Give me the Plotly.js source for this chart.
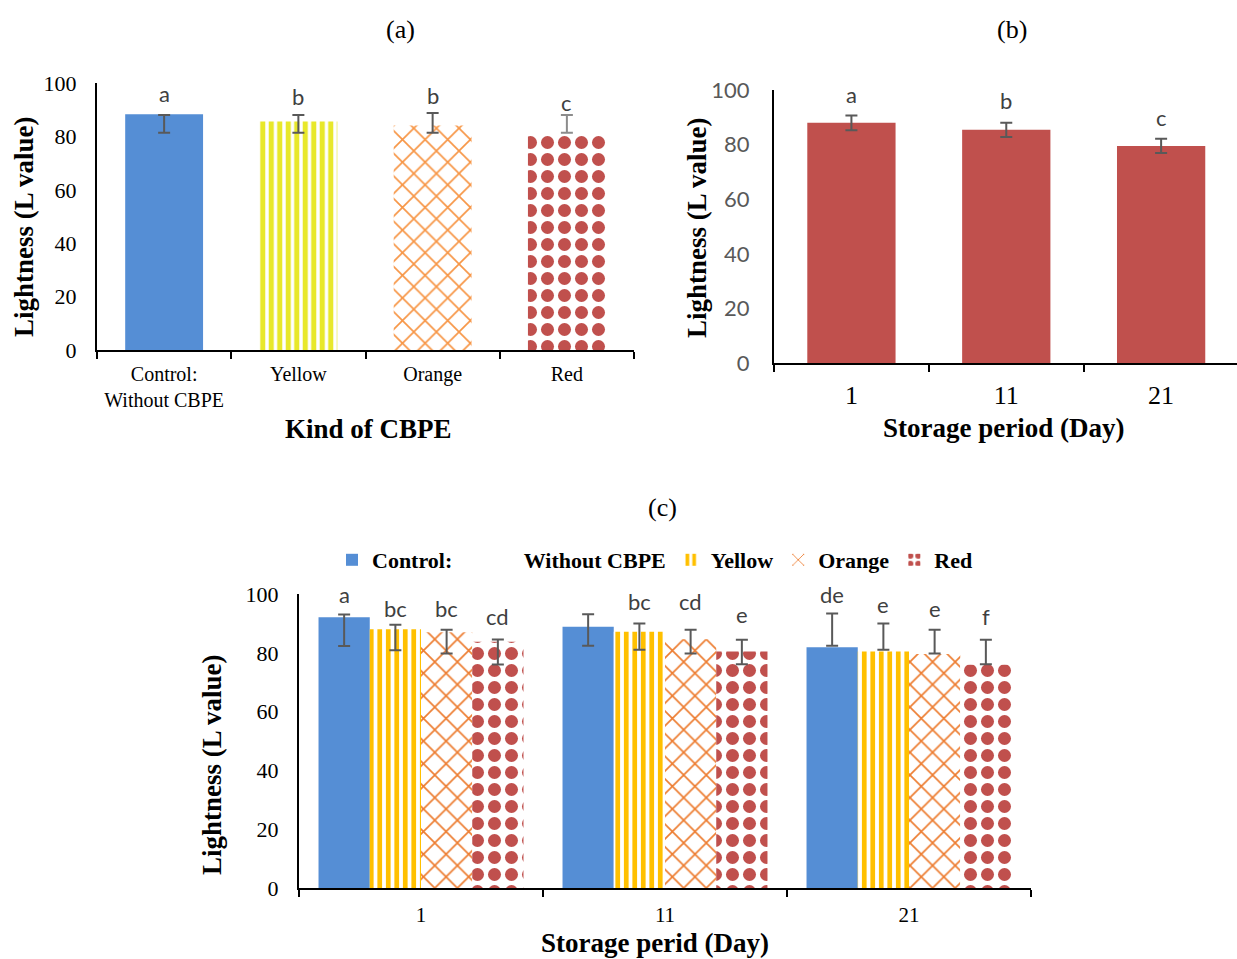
<!DOCTYPE html>
<html>
<head>
<meta charset="utf-8">
<script src="https://cdn.plot.ly/plotly-3.0.1.min.js"></script>
<style>html,body{margin:0;padding:0;background:#fff}#chart{width:1237px;height:959px}</style>
</head>
<body>
<div id="chart"></div>
<script>
// ---------- Panel (a): Kind of CBPE ----------
const catsA = ['Control:<br>Without CBPE', 'Yellow', 'Orange', 'Red'];
const valA = [88.3, 85.6, 84.1, 80.7];
const errHiA = [88.0, 88.0, 88.8, 88.0];
const errLoA = [81.4, 81.4, 81.4, 81.4];
const letA = ['a', 'b', 'b', 'c'];
const letYA = [96.0, 95.0, 95.3, 92.8];

// ---------- Panel (b): Storage period ----------
const catsB = ['1', '11', '21'];
const valB = [88.0, 85.4, 79.5];
const errB = [2.7, 2.6, 2.6];
const letB = ['a', 'b', 'c'];
const letYB = [98.2, 96.0, 89.8];

// ---------- Panel (c): Kind x Storage period ----------
const catsC = ['1', '11', '21'];
const namesC = ['Control:\u00A0\u00A0\u00A0\u00A0\u00A0\u00A0\u00A0\u00A0\u00A0\u00A0\u00A0\u00A0\u00A0Without CBPE', 'Yellow', 'Orange', 'Red'];
const controlC = [92.1, 88.9, 81.9];
const yellowC = [88.0, 87.2, 80.4];
const orangeC = [87.0, 84.6, 79.6];
const redC = [83.8, 80.4, 75.9];
const controlHiC = [93.0, 93.1, 93.4];
const controlLoC = [82.3, 82.4, 82.4];
const yellowHiC = [89.5, 90.0, 90.0];
const yellowLoC = [80.9, 81.0, 81.0];
const orangeHiC = [87.8, 87.8, 87.8];
const orangeLoC = [79.8, 79.8, 79.8];
const redHiC = [84.5, 84.4, 84.4];
const redLoC = [76.0, 76.1, 76.1];
const controlLetC = ['a', 'ab', 'de'];
const yellowLetC = ['bc', 'bc', 'e'];
const orangeLetC = ['bc', 'cd', 'e'];
const redLetC = ['cd', 'e', 'f'];
const controlLetYC = [99.7, 100.8, 99.7];
const yellowLetYC = [95.1, 97.4, 96.3];
const orangeLetYC = [95.1, 97.4, 95.1];
const redLetYC = [92.3, 92.9, 92.3];

// ---------- layout helpers ----------
const W = 1237, H = 959;
const xd = (a, b) => [a / W, Math.min(1, b / W)];
const yd = (top, bottom) => [1 - bottom / H, 1 - top / H];
const SERIF = 'Liberation Serif, Times New Roman, serif';
const SANS = 'Lato, Open Sans, sans-serif';
const ERRC = '#595959';
const BARGAP_C = 0.16;

const plus = (hi, v) => hi.map((h, i) => h - v[i]);
const minus = (lo, v) => lo.map((l, i) => v[i] - l);

const traces = [];

// Panel (a): one trace per bar, sharing one offset group so they stay centred
const styleA = [
  {color: '#558ED5', shape: '', fg: '#558ED5', bg: '#558ED5', size: 8, sol: 0.5, err: '#595959'},
  {color: '#FFFFFF', shape: '|', fg: '#E8E82A', bg: '#FFFFFF', size: 8.5, sol: 0.6, err: '#595959'},
  {color: '#FFFFFF', shape: 'x', fg: '#F79646', bg: '#FFFFFF', size: 16, sol: 0.2, err: '#595959'},
  {color: '#FFFFFF', shape: '.', fg: '#C0504D', bg: '#FFFFFF', size: 17, sol: 0.46, err: '#8C8C8C'}
];
catsA.forEach((c, i) => {
  const s = styleA[i];
  const marker = {color: s.color, line: {width: 0}};
  if (s.shape) marker.pattern = {shape: s.shape, fgcolor: s.fg, bgcolor: s.bg, fillmode: 'replace', size: s.size, solidity: s.sol};
  traces.push({
    type: 'bar', x: [c], y: [valA[i]], xaxis: 'x', yaxis: 'y', width: 0.58, offsetgroup: 'a',
    showlegend: false, hoverinfo: 'skip', marker: marker,
    error_y: {type: 'data', symmetric: false, array: [errHiA[i] - valA[i]], arrayminus: [valA[i] - errLoA[i]],
              color: s.err, thickness: 2, width: 6}
  });
});

// Panel (b)
traces.push({
  type: 'bar', x: catsB, y: valB, xaxis: 'x2', yaxis: 'y2', width: 0.57, showlegend: false,
  hoverinfo: 'skip',
  marker: {color: '#C0504D', line: {width: 0}},
  error_y: {type: 'data', array: errB, color: ERRC, thickness: 2, width: 6}
});

// Panel (c)
const seriesC = [
  {y: controlC, hi: controlHiC, lo: controlLoC, color: '#558ED5', shape: '', fg: '#558ED5', bg: '#558ED5', size: 8, sol: 0.5},
  {y: yellowC, hi: yellowHiC, lo: yellowLoC, color: '#FFFFFF', shape: '|', fg: '#FFC000', bg: '#FFFFFF', size: 8.5, sol: 0.55},
  {y: orangeC, hi: orangeHiC, lo: orangeLoC, color: '#FFFFFF', shape: 'x', fg: '#ED7D31', bg: '#FFFFFF', size: 16, sol: 0.2},
  {y: redC, hi: redHiC, lo: redLoC, color: '#FFFFFF', shape: '.', fg: '#C0504D', bg: '#FFFFFF', size: 17, sol: 0.46}
];
seriesC.forEach((s, k) => {
  const marker = {color: s.color, line: {width: 0}};
  if (s.shape) marker.pattern = {shape: s.shape, fgcolor: s.fg, bgcolor: s.bg, fillmode: 'replace', size: s.size, solidity: s.sol};
  traces.push({
    type: 'bar', name: namesC[k], x: catsC, y: s.y, xaxis: 'x3', yaxis: 'y3',
    hoverinfo: 'skip', marker: marker,
    error_y: {type: 'data', symmetric: false, array: plus(s.hi, s.y), arrayminus: minus(s.lo, s.y),
              color: ERRC, thickness: 2, width: 6}
  });
});

// ---------- annotations ----------
const ann = [];
const letterFont = {family: SANS, size: 22, color: '#404040'};
letA.forEach((t, i) => ann.push({xref: 'x', yref: 'y', x: i, y: letYA[i], text: t, showarrow: false, font: letterFont}));
letB.forEach((t, i) => ann.push({xref: 'x2', yref: 'y2', x: i, y: letYB[i], text: t, showarrow: false, font: letterFont}));
const letC = [controlLetC, yellowLetC, orangeLetC, redLetC];
const letYC = [controlLetYC, yellowLetYC, orangeLetYC, redLetYC];
const slot = (1 - BARGAP_C) / 4;
letC.forEach((arr, k) => arr.forEach((t, j) => ann.push({
  xref: 'x3', yref: 'y3', x: j + (k - 1.5) * slot, y: letYC[k][j], text: t, showarrow: false, font: letterFont
})));

const pAnn = (text, px, py, size, bold, angle) => ({
  xref: 'paper', yref: 'paper', x: px / W, y: 1 - py / H, xanchor: 'center', yanchor: 'middle',
  text: bold ? '<b>' + text + '</b>' : text, showarrow: false, textangle: angle || 0,
  font: {family: SERIF, size: size, color: '#000'}
});
ann.push(pAnn('(a)', 400, 30, 26, false));
ann.push(pAnn('(b)', 1012, 30, 26, false));
ann.push(pAnn('(c)', 662, 507, 26, false));
ann.push(pAnn('Lightness (L value)', 24, 227, 27, true, -90));
ann.push(pAnn('Lightness (L value)', 697, 228, 27, true, -90));
ann.push(pAnn('Lightness (L value)', 212, 765, 27, true, -90));
ann.push(pAnn('Kind of CBPE', 368, 429, 27, true));
ann.push(pAnn('Storage period (Day)', 1004, 428, 27, true));
ann.push(pAnn('Storage perid (Day)', 655, 943, 27, true));

const xCommon = {
  type: 'category', showline: true, linecolor: '#000', linewidth: 2, ticks: 'outside', tickson: 'boundaries',
  ticklen: 7, tickwidth: 2, tickcolor: '#000', showgrid: false, zeroline: false, fixedrange: true, tickangle: 0
};
const yCommon = {
  range: [0, 100], dtick: 20, showline: true, linecolor: '#000', linewidth: 2, ticks: '', showgrid: false,
  zeroline: false, fixedrange: true
};

const layout = {
  width: W, height: H, margin: {l: 0, r: 0, t: 0, b: 0},
  paper_bgcolor: '#fff', plot_bgcolor: 'rgba(0,0,0,0)',
  barmode: 'group', bargap: BARGAP_C, bargroupgap: 0,
  showlegend: true,
  legend: {
    orientation: 'h', x: 655 / W, y: 1 - 560 / H, xanchor: 'center', yanchor: 'middle',
    font: {family: SERIF, size: 22, color: '#000', weight: 'bold'}, itemwidth: 30, traceorder: 'normal',
    bgcolor: 'rgba(0,0,0,0)', itemclick: false, itemdoubleclick: false
  },
  xaxis: Object.assign({}, xCommon, {domain: xd(97, 634), anchor: 'y', range: [-0.5, 3.5],
    tickfont: {family: SERIF, size: 20, color: '#000'}, ticklabelstandoff: 5}),
  yaxis: Object.assign({}, yCommon, {domain: yd(83, 350), anchor: 'x',
    tickfont: {family: SERIF, size: 22, color: '#000'}, ticklabelstandoff: 14}),
  xaxis2: Object.assign({}, xCommon, {domain: xd(774, 1237), anchor: 'y2', range: [-0.5, 2.49],
    tickfont: {family: SERIF, size: 26, color: '#000'}, ticklabelstandoff: 8}),
  yaxis2: Object.assign({}, yCommon, {domain: yd(90, 363), anchor: 'x2',
    tickfont: {family: SANS, size: 22, color: '#595959'}, ticklabelstandoff: 18}),
  xaxis3: Object.assign({}, xCommon, {domain: xd(299, 1031), anchor: 'y3', range: [-0.5, 2.5],
    tickfont: {family: SERIF, size: 21, color: '#000'}, ticklabelstandoff: 7}),
  yaxis3: Object.assign({}, yCommon, {domain: yd(594, 888), anchor: 'x3',
    tickfont: {family: SERIF, size: 22, color: '#000'}, ticklabelstandoff: 14}),
  annotations: ann
};

Plotly.newPlot('chart', traces, layout, {staticPlot: true, displayModeBar: false});
</script>
</body>
</html>
